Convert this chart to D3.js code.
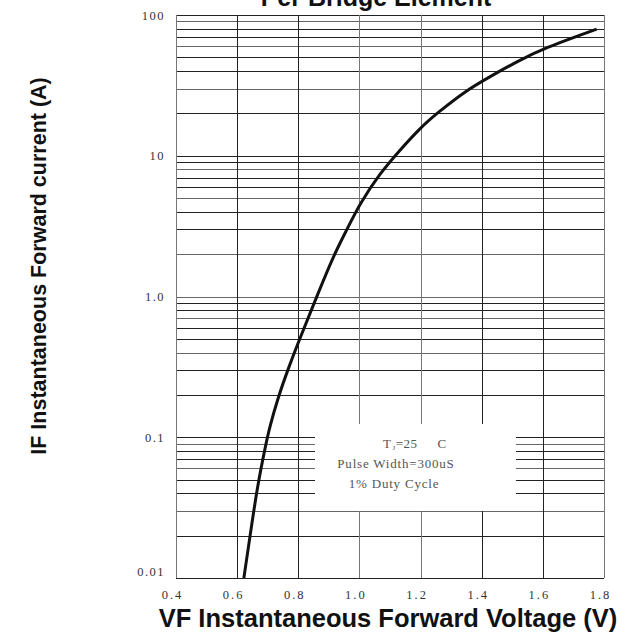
<!DOCTYPE html>
<html><head><meta charset="utf-8">
<script src="https://cdn.jsdelivr.net/npm/d3@7"></script>
<style>body{margin:0;background:#fff}svg{display:block}</style>
</head><body>
<script>
const voltage = [0.622, 0.649, 0.668, 0.692, 0.705, 0.733, 0.771, 0.803, 0.869, 0.914, 0.958, 1.002, 1.067, 1.133, 1.198, 1.253, 1.351, 1.427, 1.525, 1.602, 1.776];
const current = [0.01, 0.0251, 0.0468, 0.0851, 0.115, 0.19, 0.324, 0.49, 1.11, 1.92, 2.96, 4.59, 7.50, 11.0, 15.7, 20.0, 29.3, 36.5, 47.9, 57.9, 79.4];
const xTicks = [0.4, 0.6, 0.8, 1.0, 1.2, 1.4, 1.6, 1.8];
const xTickLabels = ["0.4", "0.6", "0.8", "1.0", "1.2", "1.4", "1.6", "1.8"];
const yTicks = [0.01, 0.1, 1, 10, 100];
const yTickLabels = ["0.01", "0.1", "1.0", "10", "100"];
const legendLines = ["T", "J", "=25", "C", "Pulse Width=300uS", "1% Duty Cycle"];
const title = "Per Bridge Element";
const xTitle = "VF Instantaneous Forward Voltage (V)";
const yTitle = "IF Instantaneous Forward current (A)";

const W = 639, H = 637;
const L = 176, R = 604, T = 15, B = 578;
const svg = d3.select("body").append("svg").attr("width", W).attr("height", H);
const x = d3.scaleLinear().domain([0.4, 1.8]).range([L, R]);
const y = d3.scaleLog().domain([0.01, 100]).range([B, T]);

const minor = [];
[0.01, 0.1, 1, 10].forEach(d => { for (let k = 2; k <= 9; k++) minor.push(d * k); });

const g = svg.append("g");
g.selectAll("line.h").data(minor.concat(yTicks)).join("line")
  .attr("x1", L).attr("x2", R)
  .attr("y1", d => Math.round(y(d)) + 0.5).attr("y2", d => Math.round(y(d)) + 0.5)
  .attr("stroke", (d, i) => (i % 3 === 1 ? "#666" : "#222")).attr("stroke-width", 1);
const vDark = [0.6, 0.8, 1.4, 1.6];
g.selectAll("line.v").data(xTicks).join("line")
  .attr("y1", T).attr("y2", B)
  .attr("x1", d => Math.round(x(d)) + 0.5).attr("x2", d => Math.round(x(d)) + 0.5)
  .attr("stroke", d => vDark.some(v => Math.abs(v - d) < 1e-9) ? "#222" : "#777").attr("stroke-width", 1);

svg.append("rect").attr("x", 315).attr("y", 424).attr("width", 201).attr("height", 87).attr("fill", "#fff");
const lg = svg.append("g").attr("font-family", "Liberation Serif, serif").attr("font-size", 13).attr("fill", "#555");
const t1 = lg.append("text").attr("x", 383).attr("y", 448).attr("letter-spacing", 0.5);
t1.append("tspan").text(legendLines[0]);
t1.append("tspan").attr("font-size", 7).attr("dy", 2).attr("dx", 1).text(legendLines[1]);
t1.append("tspan").attr("dy", -2).text(legendLines[2]);
t1.append("tspan").attr("dx", 20).text(legendLines[3]);
lg.append("text").attr("x", 396).attr("y", 468).attr("text-anchor", "middle").attr("letter-spacing", 0.8).text(legendLines[4]);
lg.append("text").attr("x", 394).attr("y", 488).attr("text-anchor", "middle").attr("letter-spacing", 0.8).text(legendLines[5]);

const pts = voltage.map((v, i) => [v, current[i]]);
svg.append("path").datum(pts)
  .attr("d", d3.line().x(d => x(d[0])).y(d => y(d[1])).curve(d3.curveBasis))
  .attr("fill", "none").attr("stroke", "#111").attr("stroke-width", 3);

const xa = svg.append("g").attr("transform", `translate(0,${B + 7})`)
  .call(d3.axisBottom(x).tickValues(xTicks).tickSize(0).tickFormat((d, i) => xTickLabels[i]));
xa.select(".domain").remove();
xa.selectAll("text").attr("font-family", "Liberation Serif, serif").attr("font-size", 12.5)
  .attr("fill", "#333").attr("letter-spacing", 2).attr("dx", -4).attr("dy", "0.9em");

const ya = svg.append("g").attr("transform", `translate(${L - 8},0)`)
  .call(d3.axisLeft(y).tickValues(yTicks).tickSize(0).tickFormat((d, i) => yTickLabels[i]));
ya.select(".domain").remove();
ya.selectAll("text").attr("font-family", "Liberation Serif, serif").attr("font-size", 12.5)
  .attr("fill", "#333").attr("letter-spacing", 1.5)
  .attr("dy", (d, i) => i === 0 ? "-0.2em" : "0.32em");

svg.append("text").attr("x", 376).attr("y", 6).attr("text-anchor", "middle")
  .attr("font-family", "Liberation Sans, Arial, sans-serif").attr("font-weight", "bold").attr("font-size", 25)
  .attr("fill", "#111").text(title);
svg.append("text").attr("x", 388).attr("y", 627).attr("text-anchor", "middle")
  .attr("font-family", "Liberation Sans, Arial, sans-serif").attr("font-weight", "bold").attr("font-size", 25.5)
  .attr("fill", "#111").text(xTitle);
svg.append("text").attr("transform", "translate(46,266) rotate(-90)").attr("text-anchor", "middle")
  .attr("font-family", "Liberation Sans, Arial, sans-serif").attr("font-weight", "bold").attr("font-size", 21.5)
  .attr("fill", "#111").text(yTitle);
</script>
</body></html>
